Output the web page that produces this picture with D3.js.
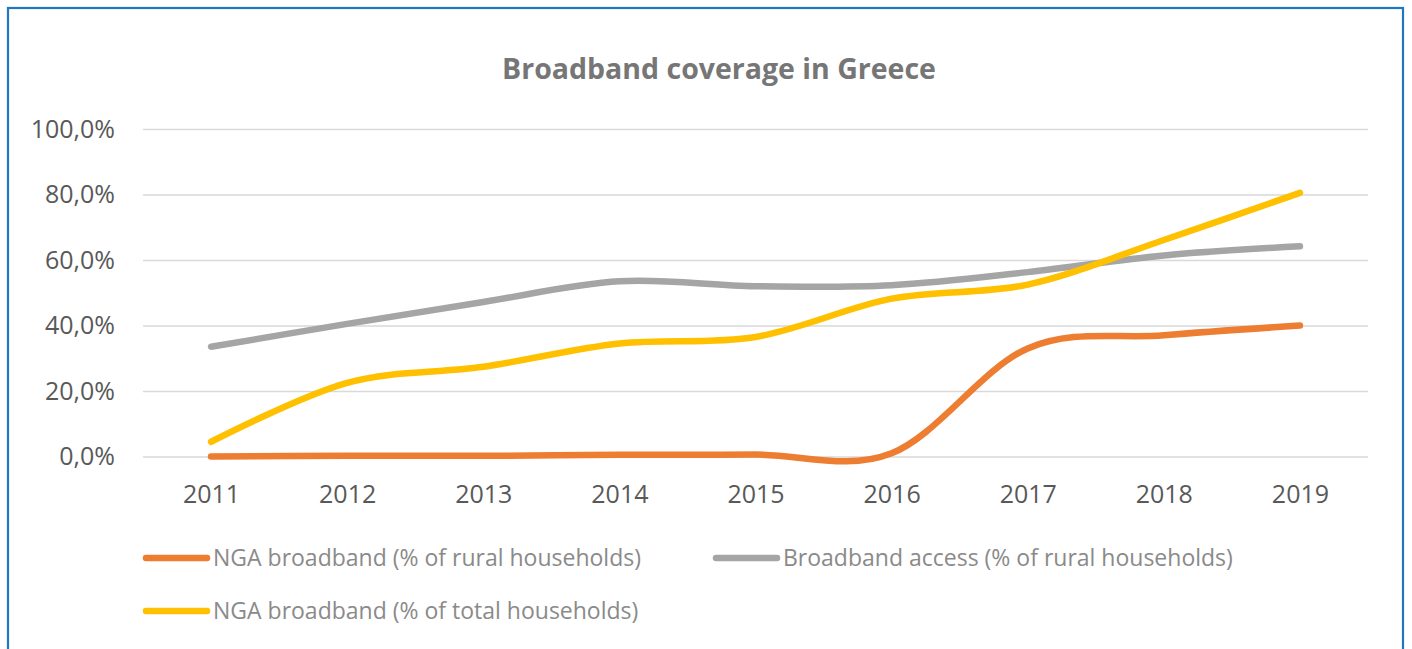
<!DOCTYPE html>
<html>
<head>
<meta charset="utf-8">
<script src="https://cdn.jsdelivr.net/npm/d3@7"></script>
<style>
  html, body { margin: 0; padding: 0; background: #ffffff; }
  svg { display: block; font-family: "Open Sans", "Noto Sans", sans-serif; }
</style>
</head>
<body>
<svg id="chart" width="1412" height="649"></svg>
<script>
const years = ["2011", "2012", "2013", "2014", "2015", "2016", "2017", "2018", "2019"];
const ngaRural = [0.0, 0.2, 0.2, 0.5, 0.6, 1.0, 33.0, 37.0, 40.0];
const broadbandRural = [33.5, 40.5, 47.2, 53.5, 52.0, 52.3, 56.3, 61.4, 64.2];
const ngaTotal = [4.5, 22.5, 27.4, 34.5, 36.5, 48.2, 52.5, 66.1, 80.5];
const yTicks = [0, 20, 40, 60, 80, 100];
const seriesNames = [
  "NGA broadband (% of rural households)",
  "Broadband access (% of rural households)",
  "NGA broadband (% of total households)"
];
const seriesColors = ["#ED7D31", "#A5A5A5", "#FFC000"];
const titleText = "Broadband coverage in Greece";

const series = [
  { name: seriesNames[0], values: ngaRural, color: seriesColors[0] },
  { name: seriesNames[1], values: broadbandRural, color: seriesColors[1] },
  { name: seriesNames[2], values: ngaTotal, color: seriesColors[2] }
];

const svg = d3.select("#chart");

// outer frame
svg.append("rect")
  .attr("x", 8).attr("y", 8)
  .attr("width", 1395).attr("height", 660)
  .attr("fill", "#ffffff")
  .attr("stroke", "#1F77C0")
  .attr("stroke-width", 2.2);

const plot = { left: 143, right: 1368, top: 129, bottom: 456.5 };

const x = d3.scalePoint().domain(years).range([plot.left, plot.right]).padding(0.5);
const y = d3.scaleLinear().domain([0, 100]).range([plot.bottom, plot.top]);

// title
svg.append("text")
  .attr("x", 719).attr("y", 79)
  .attr("text-anchor", "middle")
  .attr("font-size", 28.5)
  .attr("font-weight", "bold")
  .attr("fill", "#767676")
  .text(titleText);

// gridlines + y axis
const fmt = v => d3.format(".1f")(v).replace(".", ",") + "%";
const yAxis = d3.axisLeft(y).tickValues(yTicks).tickFormat(fmt)
  .tickSize(-(plot.right - plot.left)).tickPadding(28);
const gy = svg.append("g").attr("transform", `translate(${plot.left},0)`).call(yAxis);
gy.select(".domain").remove();
gy.selectAll(".tick line").attr("stroke", "#D9D9D9").attr("stroke-width", 1.6);
gy.selectAll(".tick text")
  .attr("font-size", 25).attr("fill", "#595959")
  .attr("font-family", "\"Open Sans\", sans-serif");

// x axis labels
const xAxis = d3.axisBottom(x).tickSize(0).tickPadding(29);
const gx = svg.append("g").attr("transform", `translate(0,${plot.bottom})`).call(xAxis);
gx.select(".domain").remove();
gx.selectAll(".tick text")
  .attr("font-size", 25).attr("fill", "#595959")
  .attr("font-family", "\"Open Sans\", sans-serif");

// lines
const line = d3.line()
  .x((d, i) => x(years[i]))
  .y(d => y(d))
  .curve(d3.curveCatmullRom.alpha(0));

svg.append("g").selectAll("path")
  .data(series)
  .join("path")
  .attr("d", d => line(d.values))
  .attr("fill", "none")
  .attr("stroke", d => d.color)
  .attr("stroke-width", 6.5)
  .attr("stroke-linecap", "round")
  .attr("stroke-linejoin", "round");

// legend
const legendPos = [
  { x: 143, y: 558 },
  { x: 713, y: 558 },
  { x: 143, y: 611 }
];
const lg = svg.append("g").selectAll("g")
  .data(series)
  .join("g")
  .attr("transform", (d, i) => `translate(${legendPos[i].x},${legendPos[i].y})`);
lg.append("line")
  .attr("x1", 3).attr("x2", 64).attr("y1", 0).attr("y2", 0)
  .attr("stroke", d => d.color)
  .attr("stroke-width", 6.5)
  .attr("stroke-linecap", "round");
lg.append("text")
  .attr("x", 70).attr("y", 0).attr("dy", "0.36em")
  .attr("font-size", 23)
  .attr("fill", "#8A8A8A")
  .text(d => d.name);
</script>
</body>
</html>
